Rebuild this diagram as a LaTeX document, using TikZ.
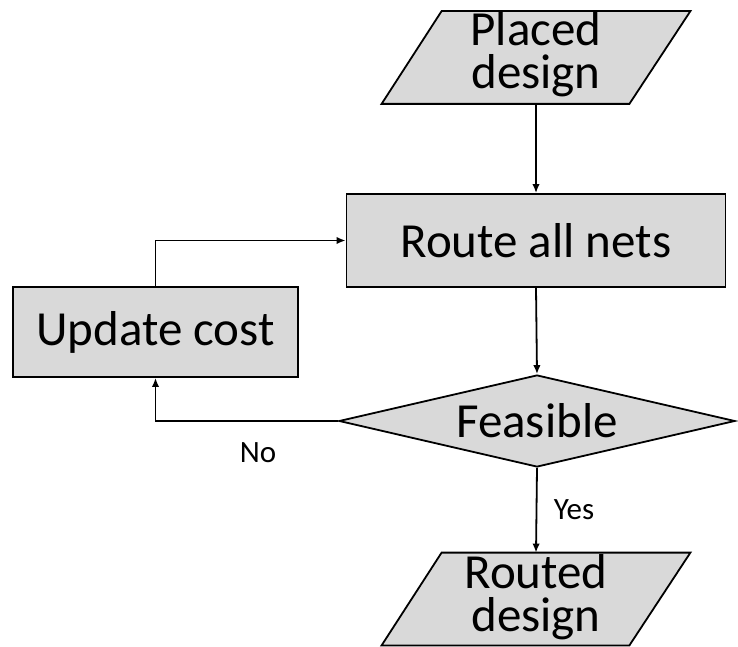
\documentclass[tikz,border=0pt]{standalone}
\usepackage{fontspec}
\setmainfont{Carlito}
\usetikzlibrary{shapes.geometric,arrows.meta,calc,backgrounds}
\definecolor{boxgray}{RGB}{217,217,217}

\begin{document}
\begin{tikzpicture}[x=1pt,y=-1pt,line width=1.8pt,
  bigtext/.style={font=\fontsize{49}{43}\selectfont},
  lbl/.style={font=\fontsize{31}{34}\selectfont, inner sep=0pt},
  procbox/.style={rectangle, draw=black, fill=boxgray, inner sep=0pt, bigtext},
  decision/.style={diamond, draw=black, fill=boxgray, inner sep=0pt, aspect=4.3, bigtext},
  iobox/.style={rectangle, inner sep=0pt, minimum width=307pt, minimum height=91pt},
  iotext/.style={inner sep=0pt, align=center, bigtext},
  para/.style={draw=black, fill=boxgray, line join=miter},
  arr/.style={-{Latex[length=9pt,width=7.5pt]}}]
\useasboundingbox (0,0) rectangle (738,647);

% process steps
\node[iobox] (placed) at (536,57.5) {};
\node[procbox, minimum width=379pt, minimum height=93pt] (route) at (536,240.5) {Route all nets};
\node[procbox, minimum width=285pt, minimum height=90pt] (update) at (155.5,332) {Update cost};
\node[decision, minimum width=396pt, minimum height=92pt] (feas) at (537,421) {Feasible};
\node[iobox] (routed) at (536,599) {};

% parallelogram outlines of the input and output
\foreach \n in {placed,routed}{
  \draw[para] ($(\n.north west)+(60,0)$) -- (\n.north east)
    -- ($(\n.south east)+(-61,0)$) -- (\n.south west) -- cycle;
}
\node[iotext] (placedtxt) at ($(placed.center)+(0,-3)$) {Placed\\design};
\node[iotext] (routedtxt) at ($(routed.center)+(0,-2)$) {Routed\\design};

% connectors
\draw[arr] (placed.south) -- (route.north);
\draw[arr] (route.south) -- (feas.north);
\draw[arr] (feas.west) -| (update.south);
\draw[arr] (update.north) |- (route.west);
\draw[arr] (feas.south) -- (routed.north);

% branch labels
\node[lbl] (no) at (258,453) {No};
\node[lbl] (yes) at (574,510) {Yes};
\end{tikzpicture}
\end{document}
